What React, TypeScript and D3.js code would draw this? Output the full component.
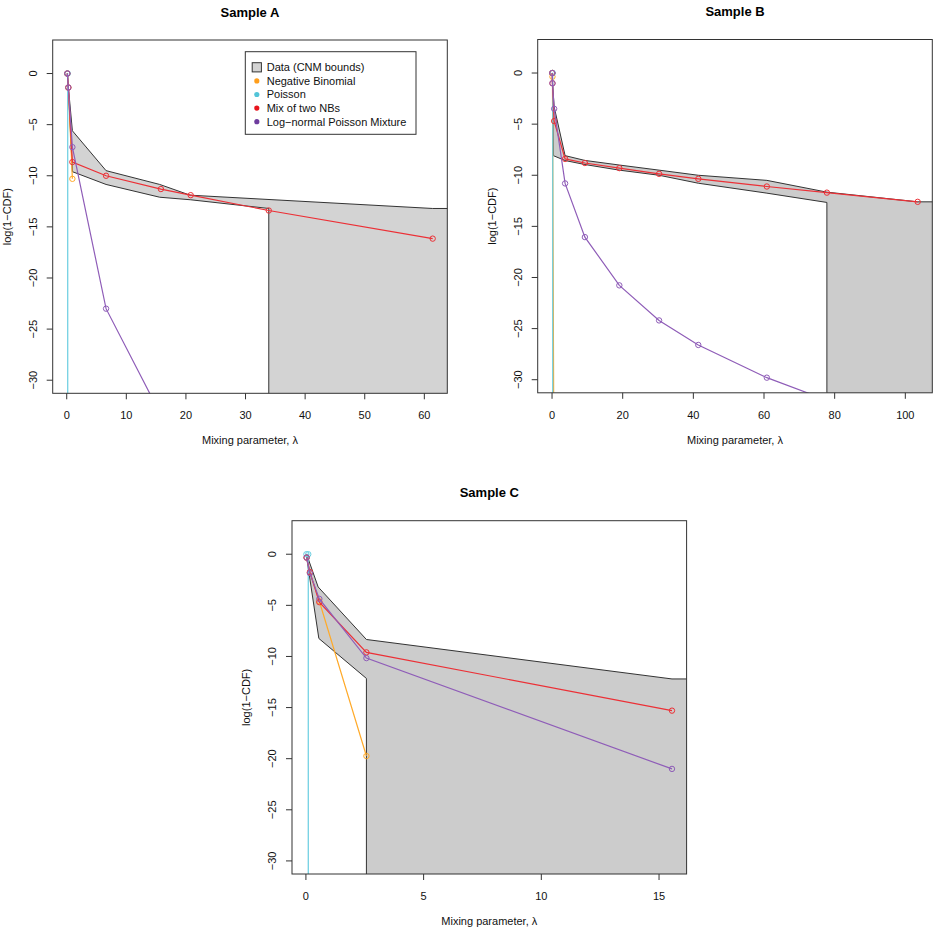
import * as d3 from "d3"

// shared y axis
const yTicks = [0, -5, -10, -15, -20, -25, -30]
const yLimits = [-30, 2]

// Sample A
const aLambda = [0.1, 0.27, 0.95, 6.6, 15.8, 20.8, 33.9, 61.4]
const aNegBin = [0, -1.37, -10.3]
const aPoissonX = [0.1, 0.17, 0.17]
const aPoissonY = [0, 0, -1000]
const aMixNB = [0, -1.37, -8.66, -10.0, -11.3, -11.9, -13.4, -16.15]
const aLogNormal = [0, -1.37, -7.2, -23.0, -33.4]
const aUpperX = [0.1, 0.27, 0.95, 6.6, 15.6, 20.7, 61.4, 1000]
const aUpperY = [0, -1.3, -5.6, -9.5, -10.85, -11.9, -13.2, -13.2]
const aLowerX = [0.1, 0.27, 0.95, 6.6, 15.6, 20.8, 33.9, 33.9]
const aLowerY = [0, -1.4, -9.6, -10.85, -12.1, -12.35, -13.2, -1000]
const aXTicks = [0, 10, 20, 30, 40, 50, 60]

// Sample B
const bLambda = [0.08, 0.12, 0.6, 3.7, 9.3, 19.05, 30.3, 41.4, 60.8, 77.8, 103.5]
const bNegBin = [0, -0.36, -45]
const bPoissonX = [0.08, 0.2, 0.2]
const bPoissonY = [0, 0, -1000]
const bMixNB = [0, -1.0, -4.7, -8.4, -8.8, -9.3, -9.86, -10.35, -11.1, -11.7, -12.6]
const bLogNormal = [0, -1.0, -3.5, -10.8, -16.05, -20.77, -24.2, -26.6, -29.8, -32.0, -35.1]
const bUpperX = [0.08, 0.12, 0.6, 3.7, 9.3, 19.05, 30.3, 41.4, 60.8, 77.8, 103.5, 1000]
const bUpperY = [0, -0.8, -3.3, -8.08, -8.55, -9.0, -9.5, -10.0, -10.5, -11.65, -12.6, -12.6]
const bLowerX = [0.08, 0.37, 3.7, 9.3, 19.05, 30.3, 41.4, 60.8, 77.8, 77.8]
const bLowerY = [0, -8.08, -8.56, -8.95, -9.5, -10.0, -10.78, -11.75, -12.66, -1000]
const bXTicks = [0, 20, 40, 60, 80, 100]

// Sample C
const cLambda = [0.03, 0.17, 0.57, 2.57, 15.55]
const cNegBin = [-0.33, -1.8, -4.6, -19.74]
const cPoissonX = [0.02, 0.1, 0.11]
const cPoissonY = [0, 0, -1000]
const cMixNB = [-0.33, -1.75, -4.69, -9.6, -15.3]
const cLogNormal = [-0.33, -1.85, -4.37, -10.16, -21.0]
const cUpperX = [0.03, 0.52, 2.57, 15.55, 1000]
const cUpperY = [0, -3.2, -8.34, -12.2, -12.2]
const cLowerX = [0.03, 0.55, 2.57, 2.57]
const cLowerY = [-0.3, -8.24, -12.15, -1000]
const cXTicks = [0, 5, 10, 15]

const legendLabels = [
  "Data (CNM bounds)",
  "Negative Binomial",
  "Poisson",
  "Mix of two NBs",
  "Log\u2212normal Poisson Mixture",
]
const lineColors = ["#FFAA2A", "#68CDE0", "#EC3036", "#8F5DB8"]
const dotColors = ["#FF9E1B", "#52C4D8", "#E8141C", "#6E3C9E"]

const W = 394.6
const H = 353.3
const FONT = "'Liberation Sans', Arial, Helvetica, sans-serif"

type Pt = [number, number]

// R-style 4% axis expansion
const expand = (ext: number[]) => {
  const lo = d3.min(ext) as number
  const hi = d3.max(ext) as number
  const pad = (hi - lo) * 0.04
  return [lo - pad, hi + pad]
}

const zip = (xs: number[], ys: number[]): Pt[] =>
  ys.map((v, i) => [xs[i], v] as Pt)

const fmt = (v: number) => (v < 0 ? "\u2212" + Math.abs(v) : String(v))

interface Series {
  x: number[]
  y: number[]
  color: string
}

interface PanelProps {
  id: string
  title: string
  left: number
  top: number
  lambda: number[]
  xTicks: number[]
  upperX: number[]
  upperY: number[]
  lowerX: number[]
  lowerY: number[]
  fill: string
  series: Series[]
  legend?: boolean
}

function Panel(p: PanelProps) {
  const x = d3.scaleLinear().domain(expand(p.lambda)).range([p.left, p.left + W])
  const y = d3.scaleLinear().domain(expand(yLimits)).range([p.top + H, p.top])
  const line = d3
    .line<Pt>()
    .x((d) => x(d[0]))
    .y((d) => y(d[1]))

  const upper = zip(p.upperX, p.upperY)
  const lower = zip(p.lowerX, p.lowerY)
  const corner: Pt = [p.upperX[p.upperX.length - 1], p.lowerY[p.lowerY.length - 1]]
  const band: Pt[] = [...upper, corner, ...lower.slice().reverse()]

  const bottom = p.top + H
  const cx = p.left + W / 2

  return (
    <g>
      <defs>
        <clipPath id={p.id}>
          <rect x={p.left} y={p.top} width={W} height={H} />
        </clipPath>
      </defs>

      <g clipPath={`url(#${p.id})`}>
        <path d={line(band) || ""} fill={p.fill} stroke="none" />
        <path d={line(upper) || ""} fill="none" stroke="#333" strokeWidth={1} />
        <path d={line(lower) || ""} fill="none" stroke="#333" strokeWidth={1} />
        {p.series.map((s, si) => {
          const pts = zip(s.x, s.y)
          return (
            <g key={si}>
              <path d={line(pts) || ""} fill="none" stroke={s.color} strokeWidth={1.2} />
              {pts.map((d, i) => (
                <circle
                  key={i}
                  cx={x(d[0])}
                  cy={y(d[1])}
                  r={2.7}
                  fill="none"
                  stroke={s.color}
                  strokeWidth={1}
                />
              ))}
            </g>
          )
        })}
      </g>

      <rect x={p.left} y={p.top} width={W} height={H} fill="none" stroke="#333" strokeWidth={1} />

      {/* x axis */}
      {p.xTicks.map((t) => (
        <g key={t}>
          <line x1={x(t)} x2={x(t)} y1={bottom} y2={bottom + 6} stroke="#333" />
          <text
            x={x(t)}
            y={bottom + 22}
            dy="0.35em"
            textAnchor="middle"
            fontSize={11}
            fontFamily={FONT}
            fill="#111"
          >
            {fmt(t)}
          </text>
        </g>
      ))}
      <text
        x={cx}
        y={bottom + 47}
        dy="0.35em"
        textAnchor="middle"
        fontSize={11}
        fontFamily={FONT}
        fill="#111"
      >
        Mixing parameter, λ
      </text>

      {/* y axis */}
      {yTicks.map((t) => (
        <g key={t}>
          <line x1={p.left - 6} x2={p.left} y1={y(t)} y2={y(t)} stroke="#333" />
          <text
            transform={`translate(${p.left - 20},${y(t)}) rotate(-90)`}
            dy="0.35em"
            textAnchor="middle"
            fontSize={11}
            fontFamily={FONT}
            fill="#111"
          >
            {fmt(t)}
          </text>
        </g>
      ))}
      <text
        transform={`translate(${p.left - 46},${p.top + H / 2}) rotate(-90)`}
        dy="0.35em"
        textAnchor="middle"
        fontSize={11}
        fontFamily={FONT}
        fill="#111"
      >
        log(1{"\u2212"}CDF)
      </text>

      <text
        x={cx}
        y={p.top - 28}
        dy="0.35em"
        textAnchor="middle"
        fontSize={13}
        fontWeight="bold"
        fontFamily={FONT}
        fill="#000"
      >
        {p.title}
      </text>

      {p.legend && (
        <g transform={`translate(${p.left + 192.6},${p.top + 11.7})`}>
          <rect x={0} y={0} width={170.7} height={82.6} fill="#fff" stroke="#333" strokeWidth={1} />
          {legendLabels.map((lab, i) => {
            const ly = 15.6 + i * 13.6
            return (
              <g key={lab}>
                {i === 0 ? (
                  <rect x={6.9} y={ly - 4.6} width={9.2} height={9.2} fill={p.fill} stroke="#333" />
                ) : (
                  <circle cx={11.5} cy={ly} r={2.6} fill={dotColors[i - 1]} />
                )}
                <text
                  x={21.4}
                  y={ly}
                  dy="0.35em"
                  fontSize={11}
                  fontFamily={FONT}
                  fill="#111"
                >
                  {lab}
                </text>
              </g>
            )
          })}
        </g>
      )}
    </g>
  )
}

export default function App() {
  const mk = (lambda: number[], nb: number[], px: number[], py: number[], mix: number[], ln: number[]): Series[] => [
    { x: lambda, y: nb, color: lineColors[0] },
    { x: px, y: py, color: lineColors[1] },
    { x: lambda, y: mix, color: lineColors[2] },
    { x: lambda, y: ln, color: lineColors[3] },
  ]

  return (
    <svg
      width={940}
      height={932}
      style={{ position: "absolute", left: 0, top: 0, background: "#fff" }}
    >
      <rect width={940} height={932} fill="#fff" />
      <Panel
        id="clipA"
        title="Sample A"
        left={52.7}
        top={40}
        lambda={aLambda}
        xTicks={aXTicks}
        upperX={aUpperX}
        upperY={aUpperY}
        lowerX={aLowerX}
        lowerY={aLowerY}
        fill="#d3d3d3"
        series={mk(aLambda, aNegBin, aPoissonX, aPoissonY, aMixNB, aLogNormal)}
        legend
      />
      <Panel
        id="clipB"
        title="Sample B"
        left={537.7}
        top={39.5}
        lambda={bLambda}
        xTicks={bXTicks}
        upperX={bUpperX}
        upperY={bUpperY}
        lowerX={bLowerX}
        lowerY={bLowerY}
        fill="#cccccc"
        series={mk(bLambda, bNegBin, bPoissonX, bPoissonY, bMixNB, bLogNormal)}
      />
      <Panel
        id="clipC"
        title="Sample C"
        left={292}
        top={520.7}
        lambda={cLambda}
        xTicks={cXTicks}
        upperX={cUpperX}
        upperY={cUpperY}
        lowerX={cLowerX}
        lowerY={cLowerY}
        fill="#cccccc"
        series={mk(cLambda, cNegBin, cPoissonX, cPoissonY, cMixNB, cLogNormal)}
      />
    </svg>
  )
}
